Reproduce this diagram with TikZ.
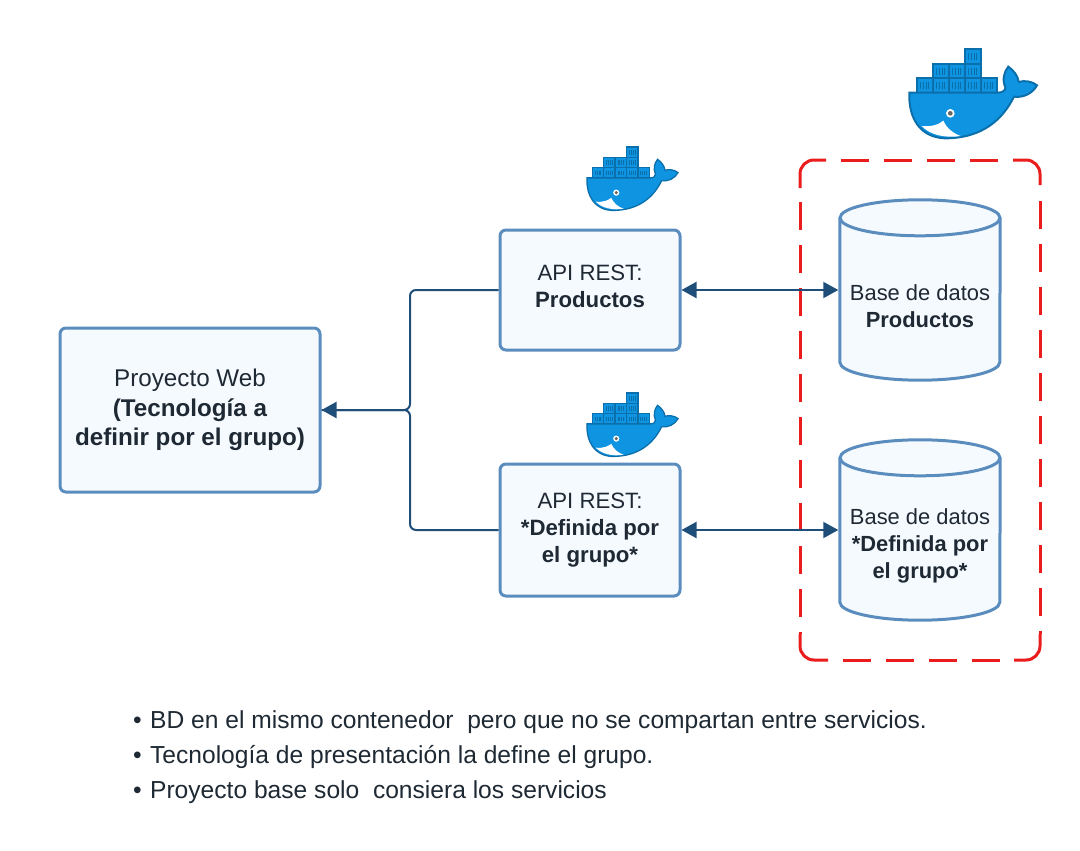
\documentclass[tikz,border=0pt]{standalone}
\usepackage{fontspec}
\setmainfont{Liberation Sans}
\usetikzlibrary{arrows.meta}

\definecolor{boxline}{HTML}{5A8DBE}
\definecolor{boxfill}{HTML}{F5FAFF}
\definecolor{linkcol}{HTML}{1F4E79}
\definecolor{textcol}{HTML}{1E2933}
\definecolor{redline}{HTML}{EA1C1C}
\definecolor{whalecol}{HTML}{0F94E2}
\definecolor{whaledark}{HTML}{0B6FAB}

\newcommand{\dbdraw}[1]{%
	\draw [draw=boxline, fill=boxfill, line width=3pt] ([yshift=-18pt]#1.north west) -- ([yshift=18pt]#1.south west) arc [x radius=80, y radius=18, start angle=180, end angle=0] -- ([yshift=-18pt]#1.north east);
	\draw [draw=boxline, fill=boxfill, line width=3pt] ([yshift=-18pt]#1.north) ellipse [x radius=80, y radius=18];
}

\tikzset{
	box/.style={draw=boxline, fill=boxfill, line width=3pt, rounded corners=6pt, align=center, text=textcol, font=\fontsize{22.2}{26.8}\selectfont},
	webbox/.style={box, font=\fontsize{24.2}{29.5}\selectfont},
	dbase/.style={minimum width=160pt, minimum height=180pt, inner sep=0pt, align=center, text=textcol, font=\fontsize{21.9}{27}\selectfont},
	frameline/.style={draw=redline, line width=3pt},
	framedash/.style={frameline, dash pattern=on 28pt off 15pt},
	framecorner/.style={frameline, rounded corners=14pt},
	link/.style={draw=linkcol, line width=2pt},
	tip/.style={-{Triangle[length=15pt,width=16pt]}},
	tips/.style={{Triangle[length=15pt,width=16pt]}-{Triangle[length=15pt,width=16pt]}, shorten >=1.5pt},
	note/.style={anchor=west, text=textcol, inner sep=0pt, font=\fontsize{24.6}{30}\selectfont},
	whale/.pic={
		\foreach \cx/\cy in {80/145,128/145,176/145,224/145,272/145,128/102,176/102,224/102,224/58}{
			\draw [draw=whaledark, fill=whalecol] (\cx,\cy) rectangle ++(48,43);
			\foreach \bx in {14,22,30,38}
				\draw [draw=whaledark, line width=.6pt] (\cx+\bx-2,\cy+12) -- (\cx+\bx-2,\cy+32);
		}
		\draw [draw=whaledark, fill=whalecol] (58,188) -- (325,188)
			.. controls (338,188) and (348,180) .. (346,172)
			.. controls (336,150) and (342,125) .. (355,110)
			.. controls (372,122) and (384,138) .. (386,156)
			.. controls (405,150) and (428,155) .. (441,166)
			.. controls (428,190) and (400,204) .. (372,200)
			.. controls (340,265) and (280,325) .. (165,325)
			.. controls (90,322) and (55,265) .. (58,188) -- cycle;
		\draw [draw=none, fill=white] (95,288) .. controls (130,292) and (150,280) .. (160,272)
			.. controls (170,295) and (190,310) .. (212,318)
			.. controls (165,325) and (120,315) .. (95,288) -- cycle;
		\draw [draw=none, fill=white] (181,250) circle (13);
		\draw [draw=none, fill=black!60] (181,250) circle (7);
	}
}

\begin{document}
\begin{tikzpicture}[x=1pt, y=-1pt]

	\useasboundingbox (0,0) rectangle (1080,851);

	\node [webbox, minimum width=260pt, minimum height=164pt] (web) at (190,410)%
	{Proyecto Web\\ \bfseries (Tecnología a\\ \bfseries definir por el grupo)};

	\node [box, minimum width=180pt, minimum height=120pt] (apiprod) at (590,290)%
	{API REST:\\ \bfseries Productos\\[-20pt]\mbox{}};

	\node [box, minimum width=180pt, minimum height=132pt] (apigrp) at (590,530)%
	{API REST:\\ \bfseries *Definida por\\ \bfseries el grupo*};

	\draw [framedash] (841,160) -- (1013,160);
	\draw [framedash] (1040,201) -- (1040,634);
	\draw [framedash] (843,660) -- (1014,660);
	\draw [framedash] (800,202) -- (800,634);

	\draw [framecorner] (800,188) |- (826,160);
	\draw [framecorner] (1013,160) -| (1040,185);
	\draw [framecorner] (1040,634) |- (1014,660);
	\draw [framecorner] (828,660) -| (800,634);

	\node [dbase] (dbprod) at (920,290) {};

	\node [dbase] (dbgrp) at (920,530) {};

	\dbdraw{dbprod}

	\dbdraw{dbgrp}

	\node [dbase, minimum height=0pt] (dbprodtext) at (920,306)%
	{Base de datos\\ \bfseries Productos};

	\node [dbase, minimum height=0pt] (dbgrptext) at (920,545.5)%
	{Base de datos\\ \bfseries *Definida por\\ \bfseries el grupo*};

	\coordinate (bus) at (410,410);

	\draw [link, tip, rounded corners=6pt] (apiprod.west) -| (bus) -- (web.east);

	\draw [link, rounded corners=6pt] (apigrp.west) -| (bus) -- (web.east);

	\draw [link, tips] (apiprod.east) -- (dbprod.west);

	\draw [link, tips] (apigrp.east) -- (dbgrp.west);

	\pic [scale=.3333, line width=2pt] (whaledb) at (890,30) {whale};

	\pic [scale=.2377, line width=1.3pt] (whaleprod) at (573.2,133.2) {whale};

	\pic [scale=.2377, line width=1.3pt] (whalegrp) at (573.2,379.2) {whale};

	\node [note] (noteone) at (133,722) {•\hspace{1.5pt} BD en el mismo contenedor\ \ pero que no se compartan entre servicios.};

	\node [note] (notetwo) at (133,757) {•\hspace{1.5pt} Tecnología de presentación la define el grupo.};

	\node [note] (notethree) at (133,792) {•\hspace{1.5pt} Proyecto base solo\ \ consiera los servicios};
\end{tikzpicture}
\end{document}
